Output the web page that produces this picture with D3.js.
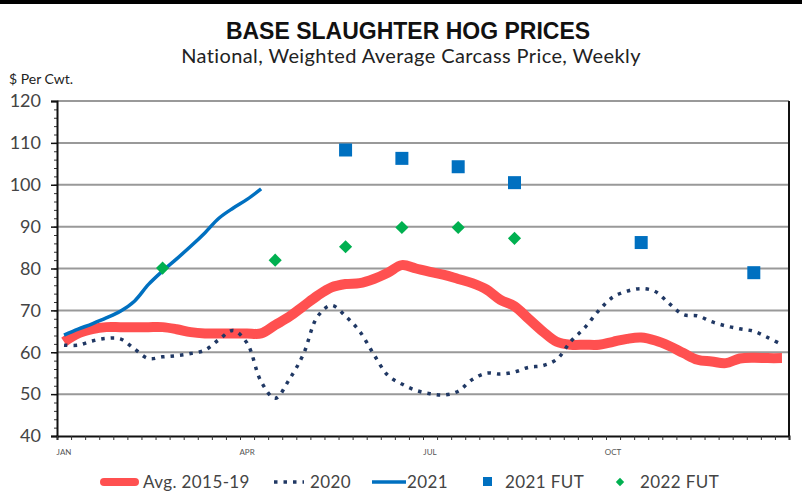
<!DOCTYPE html>
<html>
<head>
<meta charset="utf-8">
<script src="https://cdn.jsdelivr.net/npm/d3@7"></script>
<style>
  body { margin: 0; background: #fff; }
  text { font-family: Lato, "Liberation Sans", sans-serif; }
</style>
</head>
<body>
<div id="chart"></div>
<script>
// Weekly prices, $ per cwt (week 1..52)
const avg1519 = [62.5, 64.5, 65.5, 66, 66, 66, 66, 66, 65.5, 64.8, 64.5, 64.5, 64.5, 64.5, 64.5,
  66.5, 68.5, 71, 73.5, 75.5, 76.3, 76.5, 77.5, 79, 80.8, 80, 79.2, 78.5, 77.5, 76.5, 75,
  72.5, 71, 68, 65, 62.5, 61.8, 61.8, 61.8, 62.5, 63.2, 63.5, 62.8, 61.5, 59.8, 58.2, 57.8,
  57.4, 58.5, 58.7, 58.6, 58.6];
const y2020 = [61.7, 61.7, 62.7, 63.3, 63.2, 60.8, 58.5, 58.9, 59.2, 59.7, 60.5, 63, 65.2, 62.2,
  53, 49, 53.5, 59.5, 68.5, 71.2, 68.6, 65, 59.5, 54.5, 52.4, 50.9, 50.1, 49.8, 50.7, 53.5,
  55, 54.8, 55.3, 56.4, 56.8, 58.3, 62.6, 65.9, 70, 73.2, 74.6, 75.2, 74.5, 71.6, 69, 68.7,
  67.3, 66.3, 65.6, 65, 63.5, 61.8];
const y2021 = [64.1, 65.5, 66.8, 68.2, 69.8, 72.2, 76.2, 79.4, 82.3, 85.3, 88.5, 92, 94.4, 96.5, 99];
const fut2021Weeks = [21, 25, 29, 33, 42, 50];
const fut2021 = [108.3, 106.3, 104.3, 100.5, 86.2, 79.0];
const fut2022Weeks = [8, 16, 21, 25, 29, 33];
const fut2022 = [80.1, 82, 85.2, 89.8, 89.8, 87.2];
const monthLabels = ["JAN", "APR", "JUL", "OCT"];
const monthWeeks = [1, 14, 27, 40];
const yTicks = [40, 50, 60, 70, 80, 90, 100, 110, 120];

const width = 802, height = 495;
const margin = { top: 101, right: 13, bottom: 59, left: 57 };

const svg = d3.select("#chart")
  .append("svg")
  .attr("width", width)
  .attr("height", height);

// thick rule across the top
svg.append("rect")
  .attr("x", 0).attr("y", 0)
  .attr("width", width).attr("height", 4)
  .attr("fill", "#000");

// Titles
svg.append("text")
  .attr("x", 408).attr("y", 39)
  .attr("text-anchor", "middle")
  .style("font-family", "'Liberation Sans Narrow', 'Liberation Sans', sans-serif")
  .style("font-weight", "bold")
  .style("font-size", "23px")
  .attr("fill", "#111")
  .text("BASE SLAUGHTER HOG PRICES");

svg.append("text")
  .attr("x", 411).attr("y", 63)
  .attr("text-anchor", "middle")
  .style("font-size", "20px")
  .style("letter-spacing", "0.4px")
  .attr("fill", "#222")
  .text("National, Weighted Average Carcass Price, Weekly");

svg.append("text")
  .attr("x", 9).attr("y", 84)
  .style("font-size", "14px")
  .attr("fill", "#222")
  .text("$ Per Cwt.");

// Scales
const x = d3.scaleLinear()
  .domain([0.5, 52.5])
  .range([margin.left, width - margin.right]);

const y = d3.scaleLinear()
  .domain([40, 120])
  .range([height - margin.bottom, margin.top]);

// Gridlines
svg.append("g")
  .selectAll("line")
  .data(yTicks.filter(d => d > 40))
  .enter()
  .append("line")
  .attr("x1", x(0.5)).attr("x2", x(52.5))
  .attr("y1", d => y(d)).attr("y2", d => y(d))
  .attr("stroke", "#999")
  .attr("stroke-width", 2);

// Right border
svg.append("line")
  .attr("x1", x(52.5)).attr("x2", x(52.5))
  .attr("y1", y(120)).attr("y2", y(40))
  .attr("stroke", "#111")
  .attr("stroke-width", 2);

// Y axis: minor ticks every 2, labelled majors every 10
svg.append("g")
  .attr("transform", `translate(${margin.left},0)`)
  .call(d3.axisLeft(y).tickValues(d3.range(40, 121, 2)).tickSize(3).tickFormat(""))
  .call(g => g.select(".domain").remove())
  .call(g => g.selectAll("line").attr("stroke", "#333"));

svg.append("g")
  .attr("transform", `translate(${margin.left},0)`)
  .call(d3.axisLeft(y).tickValues(yTicks).tickSize(6).tickPadding(10))
  .call(g => g.select(".domain").attr("stroke", "#111").attr("stroke-width", 2))
  .call(g => g.selectAll("line").attr("stroke", "#111").attr("stroke-width", 1.5))
  .call(g => g.selectAll("text")
    .style("font-size", "18px")
    .style("font-family", "Lato, sans-serif")
    .attr("fill", "#444"));

// X axis: weekly ticks on category boundaries
svg.append("g")
  .attr("transform", `translate(0,${y(40)})`)
  .call(d3.axisBottom(x).tickValues(d3.range(0.5, 52.6, 1)).tickSize(4).tickFormat(""))
  .call(g => g.select(".domain").attr("stroke", "#111").attr("stroke-width", 2))
  .call(g => g.selectAll("line").attr("stroke", "#333"));

svg.append("g")
  .selectAll("text")
  .data(monthLabels)
  .enter()
  .append("text")
  .attr("x", (d, i) => x(monthWeeks[i]))
  .attr("y", y(40) + 19)
  .attr("text-anchor", "middle")
  .style("font-size", "8px")
  .attr("fill", "#555")
  .text(d => d);

// Lines
const line = d3.line()
  .x((d, i) => x(i + 1))
  .y(d => y(d))
  .curve(d3.curveCatmullRom.alpha(0.5));

svg.append("path")
  .datum(avg1519)
  .attr("fill", "none")
  .attr("stroke", "#ff5050")
  .attr("stroke-width", 10)
  .attr("stroke-linejoin", "round")
  .attr("d", line);

svg.append("path")
  .datum(y2020)
  .attr("fill", "none")
  .attr("stroke", "#203864")
  .attr("stroke-width", 3.5)
  .attr("stroke-dasharray", "3.5 6")
  .attr("d", line);

svg.append("path")
  .datum(y2021)
  .attr("fill", "none")
  .attr("stroke", "#0070c0")
  .attr("stroke-width", 3.5)
  .attr("d", line);

// Futures markers
svg.append("g")
  .selectAll("rect")
  .data(fut2021)
  .enter()
  .append("rect")
  .attr("x", (d, i) => x(fut2021Weeks[i]) - 6.5)
  .attr("y", d => y(d) - 6.5)
  .attr("width", 13).attr("height", 13)
  .attr("fill", "#0070c0");

svg.append("g")
  .selectAll("path")
  .data(fut2022)
  .enter()
  .append("path")
  .attr("transform", (d, i) => `translate(${x(fut2022Weeks[i])},${y(d)})`)
  .attr("d", d3.symbol(d3.symbolDiamond2, 110))
  .attr("fill", "#00b050");

// Legend
const legend = svg.append("g").attr("transform", "translate(0,482)");
const legendText = (lx, label) => legend.append("text")
  .attr("x", lx).attr("y", 6)
  .style("font-size", "17px")
  .style("letter-spacing", "0.4px")
  .attr("fill", "#444")
  .text(label);

legend.append("line")
  .attr("x1", 104).attr("x2", 135)
  .attr("stroke", "#ff5050").attr("stroke-width", 8).attr("stroke-linecap", "round");
legendText(143, "Avg. 2015-19");

legend.append("line")
  .attr("x1", 274).attr("x2", 304)
  .attr("stroke", "#203864").attr("stroke-width", 3.5).attr("stroke-dasharray", "3.5 6");
legendText(310, "2020");

legend.append("line")
  .attr("x1", 372).attr("x2", 406)
  .attr("stroke", "#0070c0").attr("stroke-width", 3.5);
legendText(407, "2021");

legend.append("rect")
  .attr("x", 483).attr("y", -5).attr("width", 9).attr("height", 9)
  .attr("fill", "#0070c0");
legendText(505, "2021 FUT");

legend.append("path")
  .attr("transform", "translate(620,0)")
  .attr("d", d3.symbol(d3.symbolDiamond2, 45))
  .attr("fill", "#00b050");
legendText(640, "2022 FUT");
</script>
</body>
</html>
